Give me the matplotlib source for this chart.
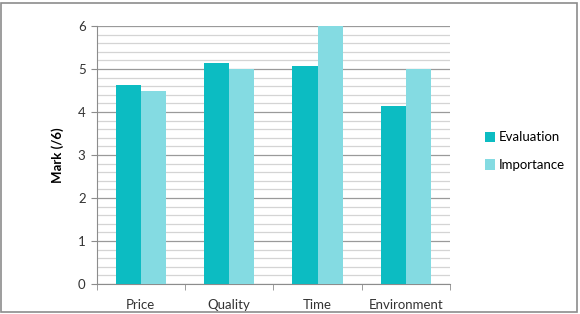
'''
Evaluation vs importance marks per criterion (grouped bar chart).
'''

import numpy as np
import matplotlib.pyplot as plt
from matplotlib.patches import Rectangle

categories = ['Price', 'Quality', 'Time', 'Environment']
evaluation = [4.63, 5.15, 5.06, 4.13]
importance = [4.5, 5.0, 6.0, 5.0]

plt.rcParams['font.family'] = ['Lato', 'DejaVu Sans']

fig = plt.figure(figsize=(5.8, 3.14), dpi=100)
ax = fig.add_axes([96.7/580, 1 - 284/314, (450 - 96.7)/580, 258/314])

# outer frame of the chart area
fig.patches.append(Rectangle((1/580, 2/314), 576/580, 309/314, transform=fig.transFigure,
                             fill=False, edgecolor='#8c8c8c', linewidth=1.2))

x = np.arange(len(categories))
w = 0.285
ax.bar(x - w/2, evaluation, w, color='#0cbcc2', label='Evaluation', zorder=3)
ax.bar(x + w/2, importance, w, color='#84dbe2', label='Importance', zorder=3)

ax.set_xlim(-0.5, len(categories) - 0.5)
ax.set_ylim(0, 6)
ax.set_yticks(range(7))
ax.set_yticks(np.arange(0, 6, 0.2), minor=True)
ax.grid(axis='y', which='major', color='#9a9a9a', linewidth=0.9, zorder=0)
ax.grid(axis='y', which='minor', color='#d4d4d4', linewidth=0.9, zorder=0)

ax.set_xticks(x)
ax.set_xticklabels(categories, fontsize=9.5, color='#333333')
ax.set_xticks(np.arange(-0.5, len(categories)), minor=True)
ax.tick_params(axis='x', which='major', length=0, pad=11)
ax.tick_params(axis='x', which='minor', length=4, color='#8c8c8c')
ax.tick_params(axis='y', which='major', length=4, color='#8c8c8c', labelsize=9.5,
               labelcolor='#333333', pad=4)
ax.tick_params(axis='y', which='minor', length=0)

for s in ['top', 'right']:
    ax.spines[s].set_visible(False)
for s in ['left', 'bottom']:
    ax.spines[s].set_color('#8c8c8c')

ax.set_ylabel('Mark (/6)', fontsize=9.5, fontweight='bold', labelpad=10)

ax.legend(loc='center left', bbox_to_anchor=(1.065, 0.515), frameon=False, fontsize=9.5,
          handlelength=0.8, handleheight=0.8, handletextpad=0.25, labelspacing=1.2)

plt.savefig('out.png')
plt.close()
